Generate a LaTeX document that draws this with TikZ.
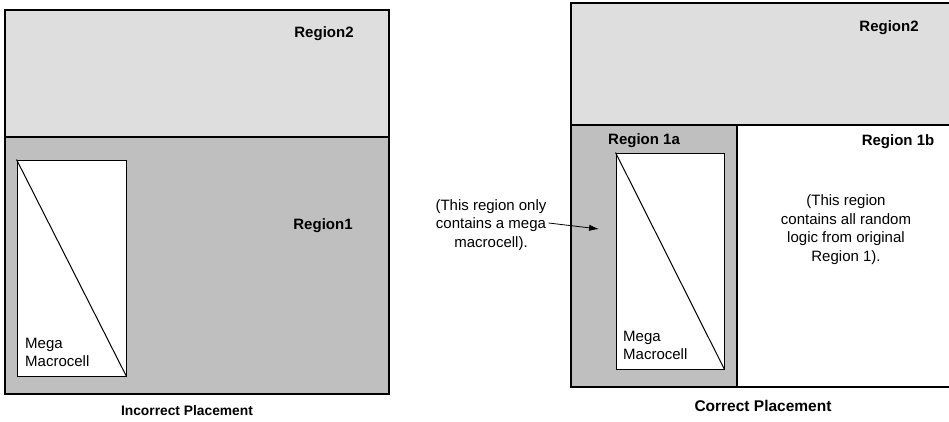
\documentclass[tikz,border=0pt]{standalone}
\usepackage{fontspec}
\setmainfont{Liberation Sans}
\usetikzlibrary{arrows.meta,positioning}
\definecolor{regtwo}{gray}{0.87}
\definecolor{regone}{gray}{0.75}

\begin{document}
\begin{tikzpicture}[
  x=1pt, y=-1pt,
  font=\fontsize{15}{18.5}\selectfont,
  region/.style={draw, line width=1.4pt},
  macro/.style={draw, fill=white, line width=1pt, inner sep=0pt},
  label/.style={font=\fontsize{15}{18}\selectfont\bfseries},
  caption/.style={font=\fontsize{13.8}{16}\selectfont\bfseries},
  note/.style={align=center, inner sep=0pt},
  arrow/.style={-{Latex[length=3.5mm, width=2.2mm]}, line width=0.8pt}
]
\useasboundingbox (0,0) rectangle (949,421);

% incorrect placement
\draw[region, fill=regtwo] (5,10) rectangle (389,137);
\draw[region, fill=regone] (5,137) rectangle (389,394);
\node[label] (r2left) at (324,34) {Region2};
\node[label] (r1left) at (323,226) {Region1};
\node[macro, minimum width=109, minimum height=216] (megaleft) at (71.5,268) {};
\draw[line width=1pt] (megaleft.north west) -- (megaleft.south east);
\node[note, align=left, anchor=south west] (mmleft) at (25,367) {Mega\\Macrocell};
\node[caption] (wrong) at (187,411) {Incorrect Placement};

% correct placement
\draw[region, fill=regtwo] (571,3) rectangle (952,125);
\draw[region, fill=regone] (571,125) rectangle (737,387);
\draw[region, fill=white] (737,125) rectangle (952,387);
\node[label] (r2right) at (889,28) {Region2};
\node[label] (r1a) at (644,141) {Region 1a};
\node[label] (r1b) at (898,142) {Region 1b};
\node[macro, minimum width=108, minimum height=216] (megaright) at (670,261) {};
\draw[line width=1pt] (megaright.north west) -- (megaright.south east);
\node[note, align=left, anchor=south west] (mmright) at (623,360) {Mega\\Macrocell};
\node[note] (bnote) at (846,229.5) {(This region\\contains all random\\logic from original\\Region 1).};
\node[caption, font=\fontsize{15.5}{18}\selectfont\bfseries] (right) at (763,406) {Correct Placement};

% note on region 1a
\node[note] (anote) at (491,225) {(This region only\\contains a mega\\macrocell).};
\coordinate (atip) at (599,229);
\draw[arrow] ([xshift=2pt, yshift=2pt]anote.east) -- (atip);
\end{tikzpicture}
\end{document}
